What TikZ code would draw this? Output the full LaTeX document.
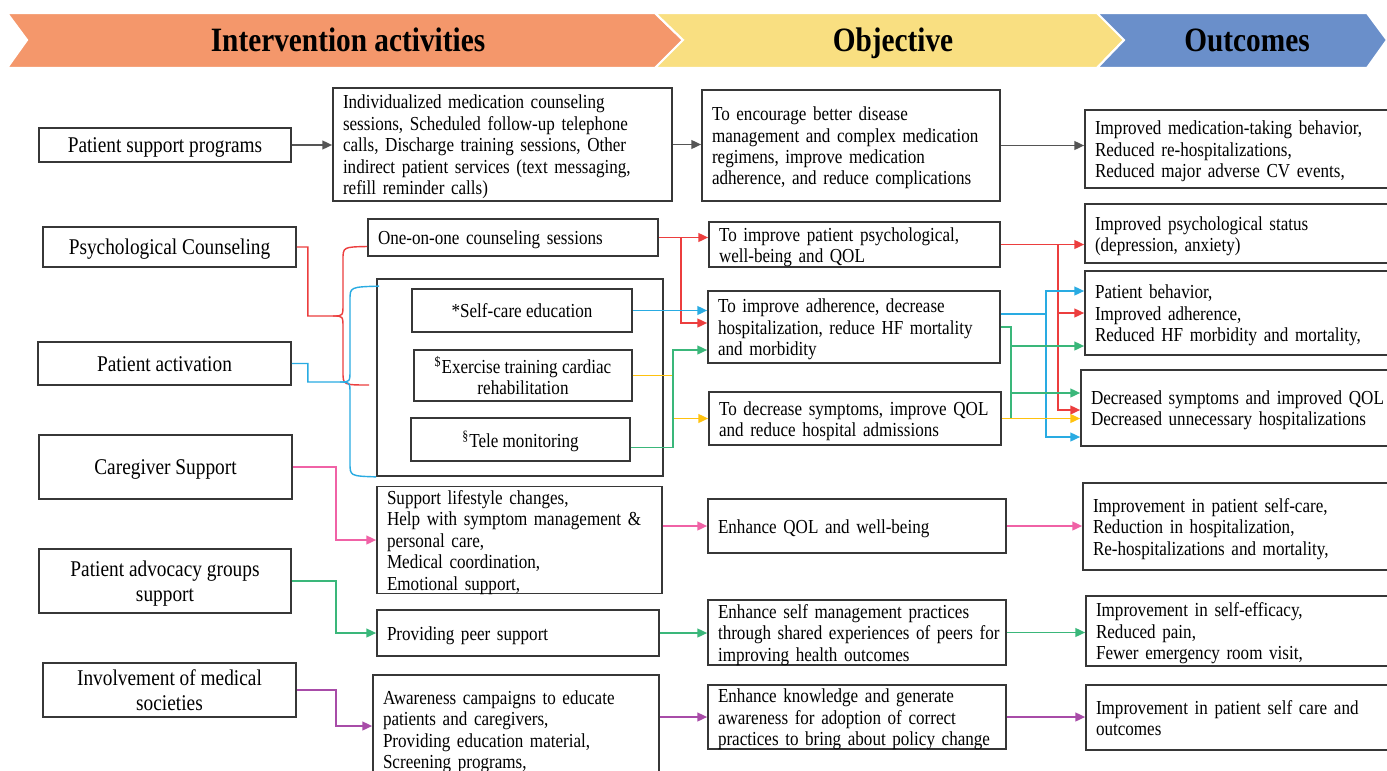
\documentclass[tikz,border=0pt]{standalone}
\usepackage{fontspec}
\setmainfont{Liberation Serif}[FakeStretch=0.86]
\usetikzlibrary{arrows.meta, calc}

\definecolor{hdorange}{RGB}{244,151,107}
\definecolor{hdyellow}{RGB}{249,223,129}
\definecolor{hdblue}{RGB}{106,143,202}
\definecolor{lnred}{RGB}{236,62,62}
\definecolor{lnblue}{RGB}{41,171,226}
\definecolor{lngreen}{RGB}{58,183,122}
\definecolor{lnyellow}{RGB}{255,194,14}
\definecolor{lnpink}{RGB}{240,98,166}
\definecolor{lnpurple}{RGB}{168,76,168}
\definecolor{lngray}{RGB}{85,85,85}
\definecolor{boxline}{RGB}{55,55,55}

% text rows, set a little below the middle of their box
\newcommand{\lns}[1]{\raisebox{-1.7pt}[\height][\depth]{\begin{tabular}{@{}l@{}}#1\end{tabular}}}
\newcommand{\cns}[1]{\raisebox{-1.7pt}[\height][\depth]{\begin{tabular}{@{}c@{}}#1\end{tabular}}}

\begin{document}
\begin{tikzpicture}[x=0.02cm, y=-0.02cm, >={Triangle[length=5.5pt,width=5pt]},
        box/.style 2 args={draw=boxline, line width=1pt, rectangle, inner sep=0pt,
                minimum width=#1*0.02cm, minimum height=#2*0.02cm},
        lbox/.style 2 args={box={#1}{#2}, text width=(#1-20)*0.02cm, align=left,
                font=\fontsize{11.3}{12.2}\selectfont},
        cbox/.style 2 args={box={#1}{#2}, align=center, font=\fontsize{11.3}{12.2}\selectfont},
        src/.style 2 args={box={#1}{#2}, align=center, font=\fontsize{12.8}{14.2}\selectfont},
        head/.style={font=\fontsize{19.4}{21}\selectfont\bfseries, text height=13.2pt, text depth=0pt},
        link/.style={line width=0.8pt}]
        \path[use as bounding box, fill=white] (0,0) rectangle (1387,771);

%% header band
        \filldraw[hdorange, draw=white, line width=1.2pt] (7,13) -- (655,13) -- (683,40) -- (655,68) -- (7,68) -- (27,40) -- cycle;
        \filldraw[hdyellow, draw=white, line width=1.2pt] (655,13) -- (1097,13) -- (1124,40) -- (1097,68) -- (655,68) -- (683,40) -- cycle;
        \filldraw[hdblue, draw=white, line width=1.2pt] (1097,13) -- (1367,13) -- (1387,40) -- (1367,68) -- (1097,68) -- (1124,40) -- cycle;
        \node[head] (hact) at (348,40) {Intervention activities};
        \node[head] (hobj) at (893,40) {Objective};
        \node[head] (hout) at (1247,40) {Outcomes};

%% interventions
        \node[src={252}{34}] (ps) at (165,145) {\cns{Patient support programs}};
        \node[src={253}{40}] (pc) at (169.5,247) {\cns{Psychological Counseling}};
        \node[src={253}{43}] (pa) at (164.5,363.5) {\cns{Patient activation}};
        \node[src={253}{64}] (cs) at (165.5,467) {\cns{Caregiver Support}};
        \node[src={252}{64}] (pag) at (165,581) {\cns{Patient advocacy groups\\support}};
        \node[src={253}{54}] (ims) at (169.5,690) {\cns{Involvement of medical\\societies}};

%% activities
        \node[lbox={339}{113}] (sess) at (502.5,144.5) {\lns{Individualized medication counseling\\sessions, Scheduled follow-up telephone\\calls, Discharge training sessions, Other\\indirect patient services (text messaging,\\refill reminder calls)}};
        \node[lbox={290}{37}] (oneone) at (513,237.5) {\lns{One-on-one counseling sessions}};
        \node[box={286}{197}] (grp) at (520,377.5) {};
        \node[cbox={220}{43}] (selfcare) at (522,310.5) {\cns{*Self-care education}};
        \node[cbox={218}{51}] (exer) at (523,375.5) {\cns{\textsuperscript{\$}Exercise training cardiac\\rehabilitation}};
        \node[cbox={219}{43}] (tele) at (520.5,439.5) {\cns{\textsuperscript{\S}Tele monitoring}};
        \node[lbox={285}{106}] (care) at (519.5,540) {\lns{Support lifestyle changes,\\Help with symptom management \&\\personal care,\\Medical coordination,\\Emotional support,}};
        \node[lbox={282}{46}] (peer) at (518,633) {\lns{Providing peer support}};
        \node[lbox={286}{108}] (aware) at (516,729) {\lns{Awareness campaigns to educate\\patients and caregivers,\\Providing education material,\\Screening programs,}};

%% objectives
        \node[lbox={298}{111}] (obj1) at (851,145.5) {\lns{To encourage better disease\\management and complex medication\\regimens, improve medication\\adherence, and reduce complications}};
        \node[lbox={291}{45}] (obj2) at (854.5,244.5) {\lns{To improve patient psychological,\\well-being and QOL}};
        \node[lbox={292}{72}] (obj3) at (854,327) {\lns{To improve adherence, decrease\\hospitalization, reduce HF mortality\\and morbidity}};
        \node[lbox={292}{53}] (obj4) at (855,418.5) {\lns{To decrease symptoms, improve QOL\\and reduce hospital admissions}};
        \node[lbox={298}{54}] (obj5) at (857,526) {\lns{Enhance QOL and well-being}};
        \node[lbox={298}{63}] (obj6) at (857,632.5) {\lns{Enhance self management practices\\through shared experiences of peers for\\improving health outcomes}};
        \node[lbox={298}{64}] (obj7) at (857,717) {\lns{Enhance knowledge and generate\\awareness for adoption of correct\\practices to bring about policy change}};

%% outcomes
        \node[lbox={307}{78}] (out1) at (1238.5,149) {\lns{Improved medication-taking behavior,\\Reduced re-hospitalizations,\\Reduced major adverse CV events,}};
        \node[lbox={307}{59}] (out2) at (1238.5,233.5) {\lns{Improved psychological status\\(depression, anxiety)}};
        \node[lbox={307}{84}] (out3) at (1238.5,313) {\lns{Patient behavior,\\Improved adherence,\\Reduced HF morbidity and mortality,}};
        \node[lbox={311}{76}] (out4) at (1236.5,408) {\lns{Decreased symptoms and improved QOL\\Decreased unnecessary hospitalizations}};
        \node[lbox={309}{87}] (out5) at (1237.5,526.5) {\lns{Improvement in patient self-care,\\Reduction in hospitalization,\\Re-hospitalizations and mortality,}};
        \node[lbox={306}{70}] (out6) at (1239,631) {\lns{Improvement in self-efficacy,\\Reduced pain,\\Fewer emergency room visit,}};
        \node[lbox={306}{65}] (out7) at (1239,717.5) {\lns{Improvement in patient self care and\\outcomes}};

%% paths
        \path[->, link, lngray]
                (ps.east) edge (ps.east -| sess.west)
                (sess.east) edge (sess.east -| obj1.west)
                (obj1.east) edge (obj1.east -| out1.west);

        % braces into the activities
        \draw[link, lnred] (pc.east) -- ++(11,0) |- (333,316)
                .. controls (343,316) .. (343,304) -- (343,260)
                .. controls (343,247) .. ($(oneone.west)+(0,9)$);
        \draw[link, lnred] (333,316) .. controls (343,316) .. (343,328) -- (343,372)
                .. controls (343,385) .. ($(grp.west)+(-7,7.5)$);
        \draw[link, lnblue] (pa.east) -- ++(16,0) |- (340,382)
                .. controls (350,382) .. (350,370) -- (350,300)
                .. controls (350,287) .. ($(grp.north west)+(3,8)$);
        \draw[link, lnblue] (340,382) .. controls (350,382) .. (350,394) -- (350,463)
                .. controls (350,476) .. (grp.south west);

        % activities to objectives
        \coordinate (rj) at ($(oneone.east)+(22,0)$);
        \draw[->, link, lnred] (oneone.east) -- (oneone.east -| obj2.west);
        \draw[->, link, lnred] (rj) |- ($(obj3.west)+(0,-4)$);
        \draw[->, link, lnblue] (selfcare.east) -- (selfcare.east -| obj3.west);
        \draw[->, link, lnyellow] (exer.east) -- ++(40,0) |- (obj4.west);
        \draw[->, link, lngreen] ($(tele.east)+(0,8)$) -- ++(42,0) |- ($(obj3.west)+(0,23)$);

        % objectives to outcomes
        \coordinate (rk) at ($(obj2.east)+(57,0)$);
        \draw[->, link, lnred] (obj2.east) -- (obj2.east -| out2.west);
        \draw[->, link, lnred] (rk) |- ($(out4.west)+(0,2)$);
        \draw[->, link, lnred] (rk |- out3.west) -- (out3.west);
        \coordinate (bk) at ($(obj3.east)+(45,-13)$);
        \draw[link, lnblue] ($(obj3.east)+(0,-13)$) -- (bk);
        \draw[->, link, lnblue] (bk) |- ($(out3.west)+(0,-22)$);
        \draw[->, link, lnblue] (bk) |- ($(out4.west)+(0,29)$);
        \coordinate (gk) at ($(obj3.east)+(10,0)$);
        \draw[link, lngreen] (obj3.east) -- (gk) |- (obj4.east);
        \draw[->, link, lngreen] ($(gk)+(0,19)$) -- ($(out3.west)+(0,33)$);
        \draw[->, link, lngreen] ($(gk)+(0,66)$) -- ($(out4.west)+(0,-15)$);
        \draw[->, link, lnyellow] (obj4.east) -- (obj4.east -| out4.west);

        % caregiver, advocacy and societies rows
        \draw[->, link, lnpink] (cs.east) -- ++(43,0) |- (care.west);
        \path[->, link, lnpink]
                (obj5.west -| care.east) edge (obj5.west)
                (obj5.east) edge (obj5.east -| out5.west);
        \draw[->, link, lngreen] (pag.east) -- ++(44,0) |- (peer.west);
        \path[->, link, lngreen]
                (peer.east) edge (peer.east -| obj6.west)
                (obj6.east) edge (obj6.east -| out6.west);
        \draw[->, link, lnpurple] (ims.east) -- ++(39,0) |- ($(aware.west)+(0,-3)$);
        \path[->, link, lnpurple]
                (obj7.west -| aware.east) edge (obj7.west)
                (obj7.east) edge (obj7.east -| out7.west);
\end{tikzpicture}
\end{document}
